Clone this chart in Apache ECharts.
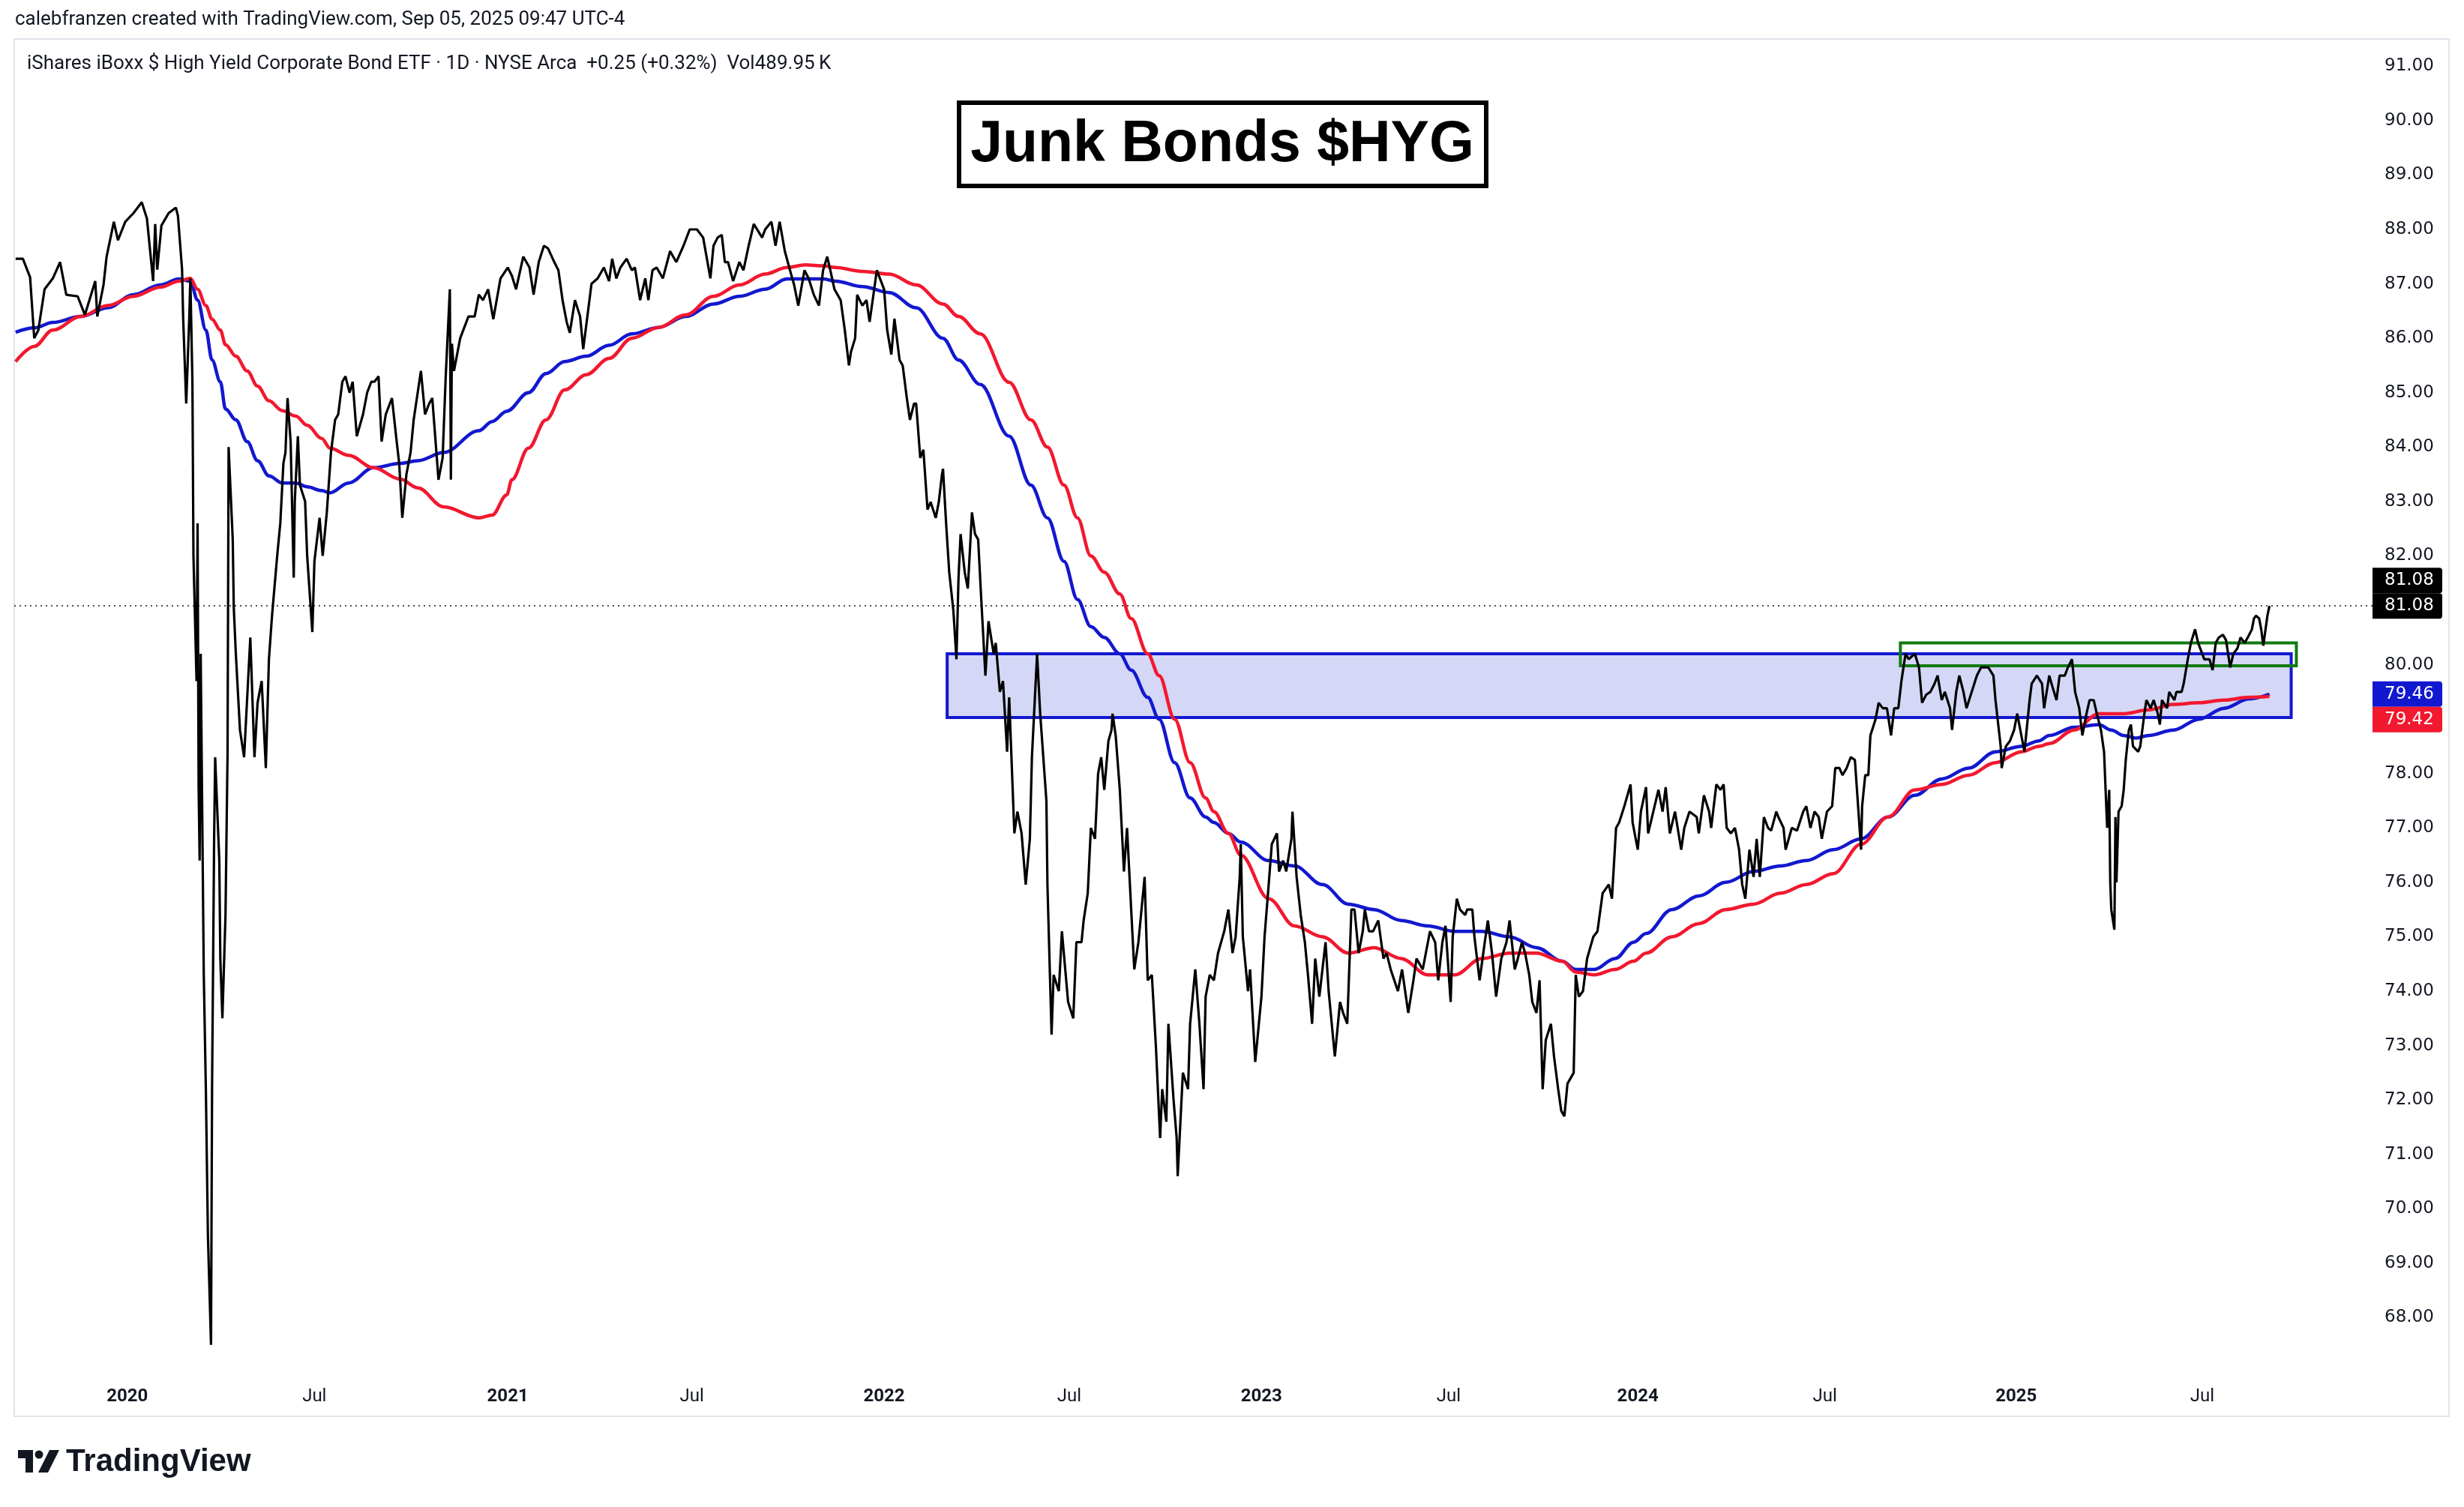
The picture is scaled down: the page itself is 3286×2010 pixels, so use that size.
<!DOCTYPE html>
<html><head><meta charset="utf-8">
<script src="https://cdn.jsdelivr.net/npm/echarts@6/dist/echarts.min.js"></script>
<style>html,body{margin:0;padding:0;background:#fff}#c{width:3286px;height:2010px}</style>
</head><body><div id="c"></div>
<script>
// HYG daily close
const hygClose = [
['2019-09-16',87.46],['2019-09-23',87.46],['2019-09-30',87.12],['2019-10-04',86.0],['2019-10-08',86.15],['2019-10-14',86.9],
['2019-10-22',87.1],['2019-10-29',87.4],['2019-11-04',86.8],['2019-11-15',86.77],['2019-11-22',86.43],['2019-12-02',87.05],
['2019-12-04',86.4],['2019-12-10',86.98],['2019-12-13',87.5],['2019-12-20',88.14],['2019-12-24',87.8],['2019-12-31',88.14],
['2020-01-08',88.3],['2020-01-16',88.5],['2020-01-21',88.2],['2020-01-27',87.05],['2020-01-29',88.1],['2020-01-31',87.26],
['2020-02-04',88.07],['2020-02-11',88.3],['2020-02-18',88.4],['2020-02-20',88.25],['2020-02-24',87.26],['2020-02-25',86.4],
['2020-02-28',84.8],['2020-03-02',86.4],['2020-03-03',87.1],['2020-03-05',85.2],['2020-03-06',82.0],['2020-03-09',79.7],
['2020-03-10',82.6],['2020-03-11',77.75],['2020-03-12',76.4],['2020-03-13',80.2],['2020-03-16',74.3],['2020-03-18',72.2],
['2020-03-20',69.5],['2020-03-23',67.5],['2020-03-24',72.2],['2020-03-26',76.8],['2020-03-27',78.3],['2020-03-31',76.4],
['2020-04-01',74.6],['2020-04-03',73.5],['2020-04-06',75.4],['2020-04-08',78.4],['2020-04-09',84.0],['2020-04-13',82.3],
['2020-04-14',81.05],['2020-04-16',80.2],['2020-04-20',78.8],['2020-04-24',78.3],['2020-04-27',79.4],['2020-04-30',80.5],
['2020-05-04',78.3],['2020-05-07',79.3],['2020-05-11',79.7],['2020-05-15',78.1],['2020-05-18',80.1],['2020-05-21',80.9],
['2020-05-26',82.0],['2020-05-29',82.6],['2020-06-01',83.7],['2020-06-03',83.9],['2020-06-05',84.9],['2020-06-08',84.1],
['2020-06-11',81.6],['2020-06-12',83.0],['2020-06-15',84.2],['2020-06-17',83.3],['2020-06-22',83.0],['2020-06-24',82.0],
['2020-06-29',80.6],['2020-07-01',81.9],['2020-07-06',82.7],['2020-07-09',82.0],['2020-07-13',82.8],['2020-07-17',83.9],
['2020-07-21',84.5],['2020-07-24',84.6],['2020-07-28',85.2],['2020-07-31',85.3],['2020-08-04',85.0],['2020-08-07',85.2],
['2020-08-11',84.2],['2020-08-17',84.6],['2020-08-21',85.0],['2020-08-25',85.2],['2020-08-28',85.2],['2020-09-01',85.3],
['2020-09-04',84.1],['2020-09-08',84.6],['2020-09-14',84.9],['2020-09-18',84.2],['2020-09-21',83.7],['2020-09-24',82.7],
['2020-09-28',83.5],['2020-10-02',83.9],['2020-10-05',84.5],['2020-10-12',85.4],['2020-10-16',84.6],['2020-10-20',84.8],
['2020-10-23',84.9],['2020-10-29',83.4],['2020-11-02',83.8],['2020-11-05',85.3],['2020-11-09',86.9],['2020-11-10',83.4],
['2020-11-11',85.9],['2020-11-13',85.4],['2020-11-19',86.0],['2020-11-27',86.4],['2020-12-03',86.4],['2020-12-07',86.8],
['2020-12-11',86.7],['2020-12-16',86.9],['2020-12-21',86.35],['2020-12-28',87.1],['2021-01-04',87.3],['2021-01-08',87.15],
['2021-01-12',86.9],['2021-01-19',87.5],['2021-01-25',87.3],['2021-01-29',86.8],['2021-02-03',87.4],['2021-02-08',87.7],
['2021-02-12',87.65],['2021-02-18',87.4],['2021-02-22',87.25],['2021-02-26',86.7],['2021-03-02',86.3],['2021-03-05',86.1],
['2021-03-10',86.7],['2021-03-15',86.4],['2021-03-18',85.8],['2021-03-22',86.4],['2021-03-26',87.0],['2021-04-01',87.1],
['2021-04-07',87.3],['2021-04-12',87.05],['2021-04-15',87.46],['2021-04-19',87.1],['2021-04-23',87.3],['2021-04-29',87.46],
['2021-05-04',87.25],['2021-05-07',87.3],['2021-05-12',86.7],['2021-05-17',87.1],['2021-05-20',86.7],['2021-05-24',87.25],
['2021-05-28',87.3],['2021-06-03',87.1],['2021-06-10',87.6],['2021-06-16',87.4],['2021-06-23',87.7],['2021-06-29',88.0],
['2021-07-06',88.0],['2021-07-12',87.85],['2021-07-19',87.1],['2021-07-22',87.7],['2021-07-26',87.85],['2021-07-30',87.9],
['2021-08-02',87.4],['2021-08-05',87.4],['2021-08-10',87.05],['2021-08-16',87.4],['2021-08-20',87.25],['2021-08-25',87.7],
['2021-08-30',88.1],['2021-09-07',87.85],['2021-09-10',88.0],['2021-09-16',88.14],['2021-09-20',87.7],['2021-09-24',88.14],
['2021-09-29',87.6],['2021-10-04',87.25],['2021-10-08',86.98],['2021-10-12',86.6],['2021-10-18',87.25],['2021-10-22',87.1],
['2021-10-27',86.8],['2021-11-01',86.6],['2021-11-05',87.25],['2021-11-09',87.5],['2021-11-12',87.25],['2021-11-16',86.9],
['2021-11-22',86.7],['2021-11-26',86.15],['2021-11-30',85.5],['2021-12-02',85.75],['2021-12-06',86.0],['2021-12-08',86.8],
['2021-12-13',86.6],['2021-12-17',86.7],['2021-12-20',86.3],['2021-12-27',87.25],['2021-12-30',87.1],['2022-01-03',86.9],
['2022-01-06',86.15],['2022-01-10',85.7],['2022-01-13',86.36],['2022-01-18',85.6],['2022-01-21',85.5],['2022-01-25',84.9],
['2022-01-28',84.5],['2022-02-01',84.8],['2022-02-03',84.8],['2022-02-07',83.8],['2022-02-10',83.95],['2022-02-14',82.85],
['2022-02-17',82.99],['2022-02-22',82.7],['2022-02-25',83.0],['2022-02-28',83.5],['2022-03-01',83.6],['2022-03-04',82.6],
['2022-03-07',81.7],['2022-03-11',81.0],['2022-03-14',80.1],['2022-03-16',81.6],['2022-03-18',82.4],['2022-03-22',81.7],
['2022-03-25',81.4],['2022-03-29',82.8],['2022-04-01',82.4],['2022-04-04',82.3],['2022-04-07',81.2],['2022-04-11',79.8],
['2022-04-14',80.8],['2022-04-19',80.2],['2022-04-21',80.4],['2022-04-25',79.5],['2022-04-28',79.7],['2022-05-02',78.4],
['2022-05-04',79.4],['2022-05-09',76.9],['2022-05-12',77.3],['2022-05-16',76.9],['2022-05-20',75.96],['2022-05-24',76.8],
['2022-05-26',78.3],['2022-05-31',80.2],['2022-06-03',79.1],['2022-06-06',78.3],['2022-06-09',77.5],['2022-06-10',75.96],
['2022-06-14',73.2],['2022-06-16',74.3],['2022-06-21',74.0],['2022-06-24',75.1],['2022-06-30',73.8],['2022-07-05',73.5],
['2022-07-08',74.9],['2022-07-13',74.9],['2022-07-15',75.3],['2022-07-19',75.8],['2022-07-22',77.0],['2022-07-26',76.8],
['2022-07-29',78.0],['2022-08-01',78.3],['2022-08-04',77.7],['2022-08-08',78.6],['2022-08-11',78.8],['2022-08-12',79.1],
['2022-08-15',78.7],['2022-08-19',77.7],['2022-08-23',76.2],['2022-08-26',77.0],['2022-08-30',75.5],['2022-09-02',74.4],
['2022-09-06',74.9],['2022-09-12',76.1],['2022-09-15',74.2],['2022-09-19',74.3],['2022-09-23',72.95],['2022-09-27',71.3],
['2022-09-29',72.2],['2022-10-03',71.6],['2022-10-05',73.4],['2022-10-10',72.0],['2022-10-13',71.3],['2022-10-14',70.6],
['2022-10-19',72.5],['2022-10-24',72.2],['2022-10-26',73.4],['2022-10-31',74.4],['2022-11-04',73.4],['2022-11-08',72.2],
['2022-11-10',73.9],['2022-11-14',74.3],['2022-11-18',74.2],['2022-11-22',74.7],['2022-11-28',75.1],['2022-12-02',75.5],
['2022-12-06',74.7],['2022-12-09',75.0],['2022-12-13',76.1],['2022-12-14',76.7],['2022-12-16',75.0],['2022-12-21',74.0],
['2022-12-23',74.4],['2022-12-28',72.7],['2023-01-03',73.9],['2023-01-06',75.0],['2023-01-10',75.96],['2023-01-13',76.7],
['2023-01-18',76.9],['2023-01-20',76.2],['2023-01-24',76.4],['2023-01-27',76.2],['2023-02-01',76.8],['2023-02-02',77.3],
['2023-02-06',76.1],['2023-02-10',75.4],['2023-02-14',74.9],['2023-02-17',74.3],['2023-02-21',73.4],['2023-02-24',74.6],
['2023-02-28',73.9],['2023-03-06',74.9],['2023-03-09',74.0],['2023-03-13',73.2],['2023-03-15',72.8],['2023-03-20',73.8],
['2023-03-23',73.6],['2023-03-27',73.4],['2023-03-31',75.5],['2023-04-03',75.5],['2023-04-07',74.7],['2023-04-11',75.1],
['2023-04-13',75.5],['2023-04-17',75.1],['2023-04-21',75.1],['2023-04-26',75.3],['2023-05-01',74.6],['2023-05-04',74.7],
['2023-05-08',74.4],['2023-05-15',74.0],['2023-05-19',74.4],['2023-05-25',73.6],['2023-05-30',74.2],['2023-06-02',74.6],
['2023-06-08',74.4],['2023-06-13',74.9],['2023-06-15',75.1],['2023-06-20',74.9],['2023-06-23',74.2],['2023-06-27',74.9],
['2023-06-30',75.2],['2023-07-05',73.8],['2023-07-07',75.0],['2023-07-11',75.7],['2023-07-14',75.5],['2023-07-19',75.4],
['2023-07-21',75.5],['2023-07-26',75.5],['2023-07-28',75.0],['2023-08-02',74.2],['2023-08-07',74.9],['2023-08-10',75.3],
['2023-08-14',74.7],['2023-08-18',73.9],['2023-08-23',74.6],['2023-08-28',74.9],['2023-08-31',75.3],['2023-09-05',74.4],
['2023-09-08',74.6],['2023-09-12',74.9],['2023-09-15',74.7],['2023-09-19',74.3],['2023-09-22',73.8],['2023-09-26',73.6],
['2023-09-29',74.2],['2023-10-02',72.2],['2023-10-05',73.1],['2023-10-10',73.4],['2023-10-13',72.8],['2023-10-17',72.2],
['2023-10-20',71.8],['2023-10-23',71.7],['2023-10-26',72.3],['2023-11-01',72.5],['2023-11-03',74.3],['2023-11-06',73.9],
['2023-11-10',74.0],['2023-11-14',74.6],['2023-11-20',75.0],['2023-11-24',75.1],['2023-11-29',75.8],['2023-12-05',75.96],
['2023-12-08',75.7],['2023-12-12',77.0],['2023-12-15',77.1],['2023-12-20',77.4],['2023-12-26',77.8],['2023-12-28',77.1],
['2024-01-02',76.6],['2024-01-05',77.3],['2024-01-10',77.75],['2024-01-12',76.9],['2024-01-17',77.3],['2024-01-22',77.7],
['2024-01-26',77.3],['2024-01-29',77.75],['2024-02-02',76.9],['2024-02-07',77.3],['2024-02-13',76.6],['2024-02-16',77.0],
['2024-02-21',77.3],['2024-02-28',77.2],['2024-03-01',76.9],['2024-03-06',77.6],['2024-03-11',77.3],['2024-03-13',77.0],
['2024-03-18',77.8],['2024-03-22',77.7],['2024-03-25',77.8],['2024-03-28',77.0],['2024-04-01',76.9],['2024-04-05',77.0],
['2024-04-09',76.6],['2024-04-12',75.96],['2024-04-15',75.7],['2024-04-19',76.6],['2024-04-23',76.1],['2024-04-26',76.8],
['2024-04-29',76.1],['2024-05-03',77.2],['2024-05-07',77.0],['2024-05-10',76.95],['2024-05-15',77.3],['2024-05-17',77.2],
['2024-05-22',77.0],['2024-05-24',76.6],['2024-05-30',77.0],['2024-06-04',76.95],['2024-06-10',77.3],['2024-06-13',77.4],
['2024-06-17',77.0],['2024-06-21',77.3],['2024-06-25',77.2],['2024-06-28',76.8],['2024-07-03',77.3],['2024-07-08',77.4],
['2024-07-11',78.1],['2024-07-15',78.1],['2024-07-18',77.97],['2024-07-22',78.1],['2024-07-26',78.3],['2024-07-30',78.25],
['2024-08-01',77.7],['2024-08-05',76.6],['2024-08-06',77.4],['2024-08-09',77.97],['2024-08-12',77.97],['2024-08-14',78.7],
['2024-08-19',79.0],['2024-08-22',79.3],['2024-08-26',79.2],['2024-08-30',79.2],['2024-09-03',78.7],['2024-09-06',79.2],
['2024-09-10',79.2],['2024-09-13',79.7],['2024-09-17',80.2],['2024-09-20',80.1],['2024-09-26',80.2],['2024-09-30',79.95],
['2024-10-03',79.3],['2024-10-07',79.45],['2024-10-11',79.5],['2024-10-15',79.65],['2024-10-18',79.8],['2024-10-22',79.35],
['2024-10-25',79.5],['2024-10-30',79.2],['2024-11-01',78.8],['2024-11-05',79.5],['2024-11-08',79.8],['2024-11-12',79.5],
['2024-11-15',79.2],['2024-11-20',79.5],['2024-11-25',79.8],['2024-11-29',79.95],['2024-12-03',79.95],['2024-12-06',79.95],
['2024-12-11',79.8],['2024-12-13',79.35],['2024-12-18',78.5],['2024-12-19',78.1],['2024-12-23',78.5],['2024-12-27',78.6],
['2024-12-31',78.8],['2025-01-03',79.1],['2025-01-10',78.4],['2025-01-15',79.35],['2025-01-17',79.65],['2025-01-22',79.8],
['2025-01-27',79.65],['2025-01-29',79.2],['2025-02-03',79.8],['2025-02-06',79.6],['2025-02-10',79.35],['2025-02-13',79.8],
['2025-02-18',79.8],['2025-02-21',79.95],['2025-02-25',80.1],['2025-02-28',79.5],['2025-03-04',79.2],['2025-03-07',78.7],
['2025-03-11',79.1],['2025-03-14',79.35],['2025-03-18',79.35],['2025-03-21',79.1],['2025-03-25',78.8],['2025-03-28',78.4],
['2025-03-31',77.0],['2025-04-02',77.7],['2025-04-03',76.0],['2025-04-04',75.5],['2025-04-07',75.13],['2025-04-08',77.2],
['2025-04-09',76.0],['2025-04-11',77.3],['2025-04-14',77.4],['2025-04-16',77.7],['2025-04-18',78.25],['2025-04-21',78.8],
['2025-04-23',78.9],['2025-04-25',78.5],['2025-04-30',78.4],['2025-05-02',78.5],['2025-05-06',79.1],['2025-05-08',79.35],
['2025-05-12',79.2],['2025-05-15',79.35],['2025-05-19',79.1],['2025-05-21',78.9],['2025-05-23',79.35],['2025-05-28',79.2],
['2025-05-30',79.5],['2025-06-04',79.35],['2025-06-06',79.5],['2025-06-11',79.5],['2025-06-13',79.65],['2025-06-17',80.1],
['2025-06-20',80.4],['2025-06-24',80.65],['2025-06-27',80.4],['2025-07-01',80.2],['2025-07-03',80.1],['2025-07-08',80.1],
['2025-07-11',79.9],['2025-07-14',80.4],['2025-07-17',80.5],['2025-07-21',80.55],['2025-07-24',80.45],['2025-07-28',79.95],
['2025-07-31',80.2],['2025-08-04',80.3],['2025-08-07',80.5],['2025-08-11',80.4],['2025-08-14',80.5],['2025-08-18',80.65],
['2025-08-20',80.85],['2025-08-22',80.9],['2025-08-25',80.85],['2025-08-27',80.65],['2025-08-29',80.35],['2025-09-02',80.9],
['2025-09-04',81.08]
];

// Blue moving average
const maBlue = [
['2019-09-16',86.11],['2019-10-04',86.19],['2019-10-22',86.29],['2019-11-18',86.4],['2019-12-14',86.56],['2020-01-08',86.8],
['2020-02-03',86.98],['2020-02-21',87.09],['2020-03-03',87.05],['2020-03-10',86.7],['2020-03-18',86.15],['2020-03-24',85.6],
['2020-04-01',85.2],['2020-04-06',84.7],['2020-04-16',84.5],['2020-04-27',84.1],['2020-05-07',83.75],['2020-05-18',83.47],
['2020-05-31',83.34],['2020-06-13',83.34],['2020-06-24',83.27],['2020-07-08',83.2],['2020-07-16',83.16],['2020-08-03',83.34],
['2020-08-27',83.62],['2020-09-22',83.7],['2020-10-09',83.75],['2020-11-03',83.9],['2020-12-07',84.3],['2020-12-20',84.47],
['2021-01-03',84.66],['2021-01-24',85.0],['2021-02-10',85.35],['2021-02-28',85.57],['2021-03-21',85.67],['2021-04-12',85.87],
['2021-05-04',86.08],['2021-05-30',86.2],['2021-06-25',86.4],['2021-07-22',86.63],['2021-08-16',86.77],['2021-09-10',86.9],
['2021-10-01',87.09],['2021-10-19',87.09],['2021-11-05',87.09],['2021-11-17',87.05],['2021-12-13',86.95],['2022-01-08',86.84],
['2022-02-03',86.56],['2022-03-01',86.0],['2022-03-16',85.6],['2022-04-06',85.15],['2022-05-04',84.2],['2022-05-25',83.3],
['2022-06-10',82.7],['2022-06-26',81.9],['2022-07-09',81.2],['2022-07-22',80.7],['2022-08-04',80.5],['2022-08-19',80.2],
['2022-08-30',79.9],['2022-09-15',79.4],['2022-09-26',79.0],['2022-10-11',78.2],['2022-10-26',77.55],['2022-11-10',77.2],
['2022-11-18',77.1],['2022-12-02',76.9],['2022-12-14',76.74],['2023-01-10',76.4],['2023-02-04',76.3],['2023-03-03',75.96],
['2023-03-28',75.6],['2023-04-22',75.5],['2023-05-18',75.3],['2023-06-13',75.2],['2023-07-09',75.1],['2023-08-04',75.1],
['2023-08-31',75.0],['2023-09-26',74.8],['2023-10-21',74.55],['2023-11-03',74.4],['2023-11-21',74.4],['2023-12-11',74.6],
['2023-12-29',74.9],['2024-01-10',75.06],['2024-02-04',75.5],['2024-03-01',75.75],['2024-03-27',76.0],['2024-04-23',76.2],
['2024-05-19',76.3],['2024-06-13',76.4],['2024-07-09',76.6],['2024-08-05',76.8],['2024-08-31',77.2],['2024-09-26',77.6],
['2024-10-22',77.9],['2024-11-17',78.1],['2024-12-13',78.4],['2025-01-07',78.5],['2025-01-24',78.6],['2025-02-03',78.7],
['2025-02-27',78.85],['2025-03-23',78.9],['2025-04-04',78.8],['2025-04-16',78.7],['2025-04-28',78.65],['2025-05-10',78.7],
['2025-06-03',78.8],['2025-06-28',79.0],['2025-07-22',79.2],['2025-08-15',79.37],['2025-09-04',79.46]
];

// Red moving average
const maRed = [
['2019-09-16',85.57],['2019-10-04',85.85],['2019-10-22',86.15],['2019-11-18',86.4],['2019-12-14',86.6],['2020-01-08',86.77],
['2020-02-03',86.94],['2020-02-21',87.05],['2020-03-03',87.1],['2020-03-10',86.9],['2020-03-18',86.6],['2020-03-24',86.35],
['2020-04-01',86.15],['2020-04-06',85.88],['2020-04-16',85.67],['2020-04-27',85.4],['2020-05-07',85.12],['2020-05-18',84.85],
['2020-05-31',84.67],['2020-06-13',84.57],['2020-06-24',84.4],['2020-07-08',84.16],['2020-07-16',83.98],['2020-08-03',83.85],
['2020-08-27',83.62],['2020-09-22',83.41],['2020-10-09',83.25],['2020-11-03',82.9],['2020-12-07',82.7],['2020-12-20',82.75],
['2021-01-03',83.12],['2021-01-08',83.4],['2021-01-24',83.98],['2021-02-10',84.5],['2021-02-28',85.05],['2021-03-21',85.33],
['2021-04-12',85.63],['2021-05-04',86.0],['2021-05-30',86.2],['2021-06-25',86.43],['2021-07-22',86.77],['2021-08-16',86.98],
['2021-09-10',87.18],['2021-10-01',87.3],['2021-10-19',87.35],['2021-11-05',87.33],['2021-11-17',87.3],['2021-12-13',87.23],
['2022-01-08',87.18],['2022-02-03',86.98],['2022-03-01',86.63],['2022-03-16',86.4],['2022-04-06',86.08],['2022-05-04',85.19],
['2022-05-25',84.5],['2022-06-10',84.0],['2022-06-26',83.3],['2022-07-09',82.7],['2022-07-22',82.0],['2022-08-04',81.7],
['2022-08-19',81.3],['2022-08-30',80.85],['2022-09-15',80.2],['2022-09-26',79.8],['2022-10-11',79.0],['2022-10-26',78.2],
['2022-11-10',77.55],['2022-11-18',77.3],['2022-12-02',76.9],['2022-12-14',76.5],['2023-01-10',75.7],['2023-02-04',75.2],
['2023-03-03',75.0],['2023-03-28',74.7],['2023-04-22',74.8],['2023-05-18',74.6],['2023-06-13',74.3],['2023-07-09',74.3],
['2023-08-04',74.6],['2023-08-31',74.7],['2023-09-26',74.7],['2023-10-21',74.55],['2023-11-03',74.35],['2023-11-21',74.3],
['2023-12-11',74.4],['2023-12-29',74.55],['2024-01-10',74.7],['2024-02-04',75.0],['2024-03-01',75.24],['2024-03-27',75.5],
['2024-04-23',75.6],['2024-05-19',75.8],['2024-06-13',75.96],['2024-07-09',76.16],['2024-08-05',76.7],['2024-08-31',77.2],
['2024-09-26',77.7],['2024-10-22',77.8],['2024-11-17',77.97],['2024-12-13',78.2],['2025-01-07',78.4],['2025-01-24',78.5],
['2025-02-03',78.55],['2025-02-27',78.8],['2025-03-23',79.1],['2025-04-16',79.1],['2025-05-10',79.17],['2025-06-03',79.27],
['2025-06-28',79.3],['2025-07-22',79.35],['2025-08-15',79.4],['2025-09-04',79.42]
];

// x-axis label dates and y-axis tick labels
const xTickDates = ['2020-01-02','2020-07-01','2021-01-04','2021-07-01','2022-01-03','2022-07-01',
                    '2023-01-03','2023-07-03','2024-01-02','2024-07-01','2025-01-02','2025-07-01'];
const yTickLabels = [68,69,70,71,72,73,74,75,76,77,78,79,80,81,82,83,84,85,86,87,88,89,90,91];

// Drawn zones
const blueZone = [['2022-03-05', 80.20], ['2025-09-25', 79.03]];
const greenZone = [['2024-09-12', 80.40], ['2025-09-30', 79.98]];

const lastPrice = 81.08, lastBlue = 79.46, lastRed = 79.42;

const BLUE = '#1218cf', RED = '#f2182f';
const ts = s => new Date(s + 'T00:00:00').getTime();
const toXY = arr => arr.map(p => [ts(p[0]), p[1]]);

const chart = echarts.init(document.getElementById('c'), null, {renderer: 'canvas'});

const option = {
  animation: false,
  backgroundColor: '#ffffff',
  grid: {left: 19, right: 122, top: 52, bottom: 180, containLabel: false},
  xAxis: {
    type: 'value',
    min: ts('2019-09-14') + 16 * 3600e3,
    max: ts('2025-12-12') + 16 * 3600e3,
    axisLine: {show: false}, axisTick: {show: false}, splitLine: {show: false},
    axisLabel: {
      customValues: xTickDates.map(ts),
      margin: 21,
      formatter: function (v) {
        const d = new Date(v);
        return d.getMonth() === 0 ? '{y|' + d.getFullYear() + '}' : '{m|Jul}';
      },
      rich: {
        y: {fontFamily: 'Roboto', fontWeight: 'bold', fontSize: 24, color: '#131722'},
        m: {fontFamily: 'Roboto', fontSize: 24, color: '#131722'}
      }
    }
  },
  yAxis: {
    type: 'value', position: 'right', min: 67, max: 91.5, interval: 1,
    axisLine: {show: false}, axisTick: {show: false}, splitLine: {show: false},
    axisLabel: {
      margin: 16, fontFamily: 'DejaVu Sans', fontSize: 23, color: '#131722',
      formatter: v => yTickLabels.includes(v) ? v.toFixed(2) : ''
    }
  },
  series: [
    {
      name: 'zones', type: 'line', data: [], z: 1, silent: true,
      markArea: {
        silent: true,
        data: [
          [{coord: [ts(blueZone[0][0]), blueZone[0][1]], itemStyle: {color: '#d4d7f5', borderColor: BLUE, borderWidth: 4}},
           {coord: [ts(blueZone[1][0]), blueZone[1][1]]}],
          [{coord: [ts(greenZone[0][0]), greenZone[0][1]], itemStyle: {color: 'rgba(0,0,0,0)', borderColor: '#117a11', borderWidth: 4}},
           {coord: [ts(greenZone[1][0]), greenZone[1][1]]}]
        ]
      }
    },
    {
      name: 'MA blue', type: 'line', data: toXY(maBlue), showSymbol: false, smooth: 0.35, smoothMonotone: 'x',
      lineStyle: {color: BLUE, width: 4.5}, itemStyle: {color: BLUE}, z: 3, silent: true
    },
    {
      name: 'MA red', type: 'line', data: toXY(maRed), showSymbol: false, smooth: 0.35, smoothMonotone: 'x',
      lineStyle: {color: RED, width: 4.5}, itemStyle: {color: RED}, z: 4, silent: true
    },
    {
      name: 'HYG', type: 'line', data: toXY(hygClose), showSymbol: false,
      lineStyle: {color: '#000000', width: 3.2}, itemStyle: {color: '#000'}, z: 5, silent: true,
      markLine: {
        silent: true, symbol: ['none', 'none'], animation: false,
        label: {show: false},
        lineStyle: {color: '#131722', type: [2, 5], width: 1.6},
        data: [{yAxis: lastPrice}]
      }
    }
  ],
  graphic: [
    {type: 'rect', z: 0, silent: true, shape: {x: 19, y: 52, width: 3247, height: 1837},
     style: {fill: null, stroke: '#e0e3eb', lineWidth: 2}},
    {type: 'text', z: 10, left: 20, top: 13,
     style: {text: 'calebfranzen created with TradingView.com, Sep 05, 2025 09:47 UTC-4',
             font: '26px Roboto', fill: '#131722'}},
    {type: 'text', z: 10, left: 36, top: 72,
     style: {text: 'iShares iBoxx $ High Yield Corporate Bond ETF \u00b7 1D \u00b7 NYSE Arca  +0.25 (+0.32%)  Vol489.95\u2009K',
             font: '26px Roboto', fill: '#131722'}},
    {type: 'rect', z: 10, shape: {x: 1279, y: 137, width: 703, height: 111},
     style: {fill: '#ffffff', stroke: '#000000', lineWidth: 6}},
    {type: 'text', z: 11, x: 1630, y: 194,
     style: {text: 'Junk Bonds $HYG', font: 'bold 77px "Liberation Sans", Arial, sans-serif', fill: '#000',
             textAlign: 'center', textVerticalAlign: 'middle', verticalAlign: 'middle'}},
    {type: 'polygon', z: 10, shape: {points: [[24,1934],[44,1934],[44,1964],[34,1964],[34,1945],[24,1945]]}, style: {fill: '#131722'}},
    {type: 'circle', z: 10, shape: {cx: 52, cy: 1940, r: 5.5}, style: {fill: '#131722'}},
    {type: 'polygon', z: 10, shape: {points: [[66,1934],[79,1934],[64,1964],[51,1964]]}, style: {fill: '#131722'}},
    {type: 'text', z: 10, x: 88, y: 1950,
     style: {text: 'TradingView', font: 'bold 42px "Liberation Sans", Arial, sans-serif', fill: '#131722',
             textVerticalAlign: 'middle', verticalAlign: 'middle'}}
  ]
};
chart.setOption(option);

// Last-value labels on the price scale, placed from the y scale
const yPx = v => chart.convertToPixel({yAxisIndex: 0}, v);
const xL = 3164, wL = 93, hL = 34;
const pY = yPx(lastPrice);
const bY = yPx(lastBlue);
const rY = Math.max(yPx(lastRed), bY + hL);
function tag(id, cy, color, text) {
  return [
    {id: id + 'r', type: 'rect', z: 50, shape: {x: xL, y: cy - hL / 2, width: wL, height: hL, r: [0, 4, 4, 0]}, style: {fill: color}},
    {id: id + 't', type: 'text', z: 51, x: 3180, y: cy,
     style: {text: text, font: '23px "DejaVu Sans"', fill: '#ffffff', textVerticalAlign: 'middle', verticalAlign: 'middle'}}
  ];
}
chart.setOption({
  graphic: [].concat(
    tag('p1', pY - hL, '#000000', lastPrice.toFixed(2)),
    tag('p2', pY, '#000000', lastPrice.toFixed(2)),
    tag('b', bY, BLUE, lastBlue.toFixed(2)),
    tag('rd', rY, RED, lastRed.toFixed(2))
  )
});
</script></body></html>
